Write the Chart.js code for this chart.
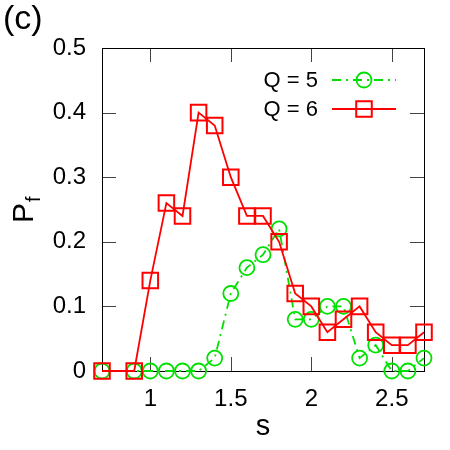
<!DOCTYPE html>
<html>
<head>
<meta charset="utf-8">
<script src="https://cdn.jsdelivr.net/npm/chart.js@4/dist/chart.umd.min.js"></script>
<style>
  html, body { margin: 0; padding: 0; background: #fff; }
  #wrap { width: 450px; height: 450px; }
</style>
</head>
<body>
<div id="wrap"><canvas id="chart"></canvas></div>
<script>
// ── Data ──────────────────────────────────────────────────
const sValues = [0.7, 0.9, 1.0, 1.1, 1.2, 1.3, 1.4, 1.5, 1.6, 1.7, 1.8, 1.9, 2.0, 2.1, 2.2, 2.3, 2.4, 2.5, 2.6, 2.7];
const pfQ5    = [0, 0, 0, 0, 0, 0, 0.02, 0.12, 0.16, 0.18, 0.22, 0.08, 0.08, 0.10, 0.10, 0.02, 0.04, 0, 0, 0.02];
const pfQ6    = [0, 0, 0.14, 0.26, 0.24, 0.40, 0.38, 0.30, 0.24, 0.24, 0.20, 0.12, 0.10, 0.06, 0.08, 0.10, 0.06, 0.04, 0.04, 0.06];
const xTicks  = [1, 1.5, 2, 2.5];
const yTicks  = [0, 0.1, 0.2, 0.3, 0.4, 0.5];
const seriesLabels = ['Q = 5', 'Q = 6'];

const FONT = '"Liberation Sans", Arial, Helvetica, sans-serif';
const GREEN = '#00e000';
const RED = '#ff0000';

const toPoints = ys => sValues.map((x, i) => ({ x, y: ys[i] }));

// ── Frame, inner ticks, titles, legend ───────────────────
const gnuplotDecor = {
  id: 'gnuplotDecor',
  beforeDatasetsDraw(chart) {
    const { ctx, chartArea: a, scales: { x, y } } = chart;
    ctx.save();
    ctx.lineWidth = 1;
    ctx.strokeStyle = '#444';
    const tl = 14;
    ctx.beginPath();
    xTicks.forEach(v => {
      const px = Math.round(x.getPixelForValue(v)) + 0.5;
      ctx.moveTo(px, a.bottom); ctx.lineTo(px, a.bottom - tl);
      ctx.moveTo(px, a.top); ctx.lineTo(px, a.top + tl);
    });
    yTicks.slice(1, -1).forEach(v => {
      const py = Math.round(y.getPixelForValue(v)) + 0.5;
      ctx.moveTo(a.left, py); ctx.lineTo(a.left + tl, py);
      ctx.moveTo(a.right, py); ctx.lineTo(a.right - tl, py);
    });
    ctx.stroke();
    ctx.strokeStyle = '#000';
    ctx.strokeRect(Math.round(a.left) + 0.5, Math.round(a.top) + 0.5,
                   Math.round(a.right - a.left), Math.round(a.bottom - a.top));
    ctx.restore();
  },
  afterDraw(chart) {
    const { ctx, chartArea: a } = chart;
    ctx.save();
    ctx.fillStyle = '#000';
    ctx.textBaseline = 'alphabetic';

    // panel tag
    ctx.font = '34px ' + FONT;
    ctx.textAlign = 'left';
    ctx.fillText('(c)', 3, 29);

    // x title
    ctx.font = '29px ' + FONT;
    ctx.textAlign = 'center';
    ctx.fillText('s', (a.left + a.right) / 2, 435);

    // y title P_f, rotated
    ctx.translate(33, 223);
    ctx.rotate(-Math.PI / 2);
    ctx.textAlign = 'left';
    ctx.font = '30px ' + FONT;
    ctx.fillText('P', 0, 0);
    const pw = ctx.measureText('P').width;
    ctx.font = '20px ' + FONT;
    ctx.fillText('f', pw + 1, 7);
    ctx.setTransform(1, 0, 0, 1, 0, 0);

    // legend: text left, sample right
    const rows = [
      { ds: chart.data.datasets[1], yc: 80 },
      { ds: chart.data.datasets[0], yc: 109 }
    ];
    rows.forEach(({ ds, yc }) => {
      ctx.font = '22px ' + FONT;
      ctx.textAlign = 'right';
      ctx.textBaseline = 'middle';
      ctx.fillStyle = '#000';
      ctx.fillText(ds.label, 318, yc + 1);
      ctx.strokeStyle = ds.borderColor;
      ctx.lineWidth = ds.borderWidth;
      ctx.setLineDash(ds.borderDash || []);
      ctx.beginPath();
      ctx.moveTo(332, yc); ctx.lineTo(396, yc);
      ctx.stroke();
      ctx.setLineDash([]);
      ctx.lineWidth = ds.pointBorderWidth;
      ctx.beginPath();
      if (ds.pointStyle === 'circle') {
        ctx.arc(364, yc, ds.pointRadius, 0, Math.PI * 2);
      } else {
        const h = ds.pointRadius * Math.SQRT1_2;
        ctx.rect(364 - h, yc - h, 2 * h, 2 * h);
      }
      ctx.stroke();
    });
    ctx.restore();
  }
};

// ── Chart ─────────────────────────────────────────────────
new Chart(document.getElementById('chart'), {
  type: 'line',
  data: {
    datasets: [
      {
        label: seriesLabels[1], data: toPoints(pfQ6), order: 0,
        borderColor: RED, borderWidth: 1.8, fill: false, tension: 0,
        pointStyle: 'rect', pointRadius: 11, pointBorderWidth: 2,
        pointBorderColor: RED, pointBackgroundColor: 'rgba(0,0,0,0)', clip: false
      },
      {
        label: seriesLabels[0], data: toPoints(pfQ5), order: 1,
        borderColor: GREEN, borderWidth: 1.8, borderDash: [9, 5, 2, 5], fill: false, tension: 0,
        pointStyle: 'circle', pointRadius: 7.5, pointBorderWidth: 1.8,
        pointBorderColor: GREEN, pointBackgroundColor: 'rgba(0,0,0,0)', clip: false
      }
    ]
  },
  options: {
    responsive: true, maintainAspectRatio: false, animation: false,
    layout: { padding: { top: 48, right: 26, left: 0, bottom: 0 } },
    plugins: { legend: { display: false }, tooltip: { enabled: false } },
    scales: {
      x: {
        type: 'linear', min: 0.7, max: 2.7,
        afterBuildTicks: s => { s.ticks = xTicks.map(v => ({ value: v })); },
        afterFit: s => { s.height = 79; },
        grid: { display: false, drawTicks: false }, border: { display: false },
        ticks: { color: '#000', font: { family: FONT, size: 24 }, padding: 14,
                 maxRotation: 0, callback: v => String(v) }
      },
      y: {
        min: 0, max: 0.5,
        afterBuildTicks: s => { s.ticks = yTicks.map(v => ({ value: v })); },
        afterFit: s => { s.width = 102; },
        grid: { display: false, drawTicks: false }, border: { display: false },
        ticks: { color: '#000', font: { family: FONT, size: 24 }, padding: 16,
                 callback: v => v === 0 ? '0' : v.toFixed(1) }
      }
    }
  },
  plugins: [gnuplotDecor]
});
</script>
</body>
</html>
